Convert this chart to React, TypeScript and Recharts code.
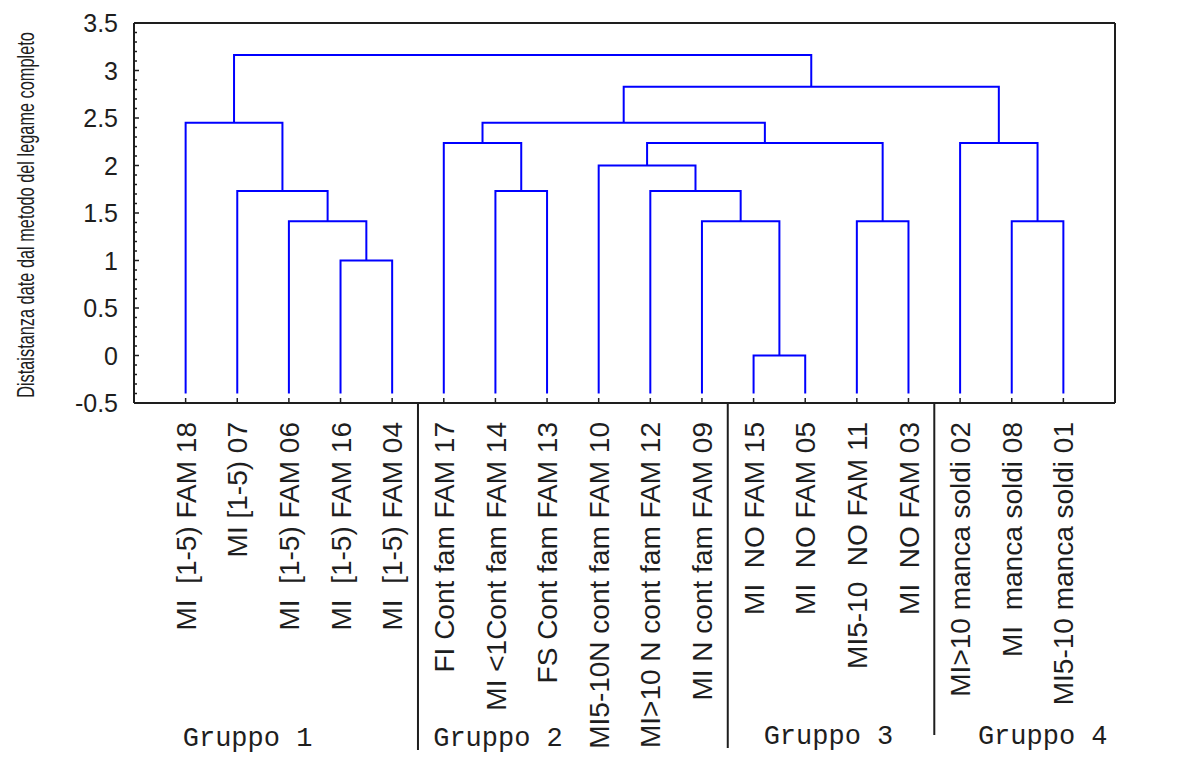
import React from 'react';
import { ComposedChart, Line, XAxis, YAxis, CartesianGrid, ReferenceDot } from 'recharts';

// leaves in dendrogram order
const leafLabels = [
  'MI  [1-5) FAM 18',
  'MI [1-5) 07',
  'MI  [1-5) FAM 06',
  'MI  [1-5) FAM 16',
  'MI  [1-5) FAM 04',
  'FI Cont fam FAM 17',
  'MI <1Cont fam FAM 14',
  'FS Cont fam FAM 13',
  'MI5-10N cont fam FAM 10',
  'MI>10 N cont fam FAM 12',
  'MI N cont fam FAM 09',
  'MI  NO FAM 15',
  'MI  NO FAM 05',
  'MI5-10  NO FAM 11',
  'MI  NO FAM 03',
  'MI>10 manca soldi 02',
  'MI  manca soldi 08',
  'MI5-10 manca soldi 01',
];

// merges: ids < 18 are leaves, 18+ are earlier merges
const mergeLeft = [11, 3, 2, 10, 13, 16, 1, 6, 9, 8, 5, 27, 15, 0, 28, 32, 31];
const mergeRight = [12, 4, 19, 18, 14, 17, 20, 7, 21, 26, 25, 22, 23, 24, 29, 30, 33];
const mergeHeight = [0, 1, 1.414, 1.414, 1.414, 1.414, 1.732, 1.732, 1.732, 2, 2.236, 2.236, 2.236, 2.449, 2.449, 2.828, 3.162];
const leafBase = -0.4;

const yTicks = [-0.5, 0, 0.5, 1, 1.5, 2, 2.5, 3, 3.5];
const yMinorTicks = Array.from({ length: 41 }, (_, i) => Math.round((-0.5 + i * 0.1) * 10) / 10);
const leafTicks = leafLabels.map((_, i) => i + 1);

const groupNames = ['Gruppo 1', 'Gruppo 2', 'Gruppo 3', 'Gruppo 4'];
const groupLabelX = [2.2, 7.05, 13.45, 17.6];
const groupBreaks = [5.5, 11.5, 15.5];

const groupLabelDrop = [343, 343, 341, 341];
const groupBreakLen = [347, 345, 332];

// build the U-shaped links from the merge table
const nodeX: number[] = leafLabels.map((_, i) => i + 1);
const nodeY: number[] = leafLabels.map(() => leafBase);
const links = mergeHeight.map((h, k) => {
  const a = mergeLeft[k];
  const b = mergeRight[k];
  const pts = [
    { x: nodeX[a], y: nodeY[a] },
    { x: nodeX[a], y: h },
    { x: nodeX[b], y: h },
    { x: nodeX[b], y: nodeY[b] },
  ];
  nodeX.push((nodeX[a] + nodeX[b]) / 2);
  nodeY.push(h);
  return pts;
});

const INK = '#1e1e1e';
const SANS = '"Liberation Sans", Arial, sans-serif';

const LeftTick = (p: any) => {
  const v = p.payload.value;
  const major = yTicks.includes(v);
  return (
    <g>
      <line x1={p.x} x2={p.x + (major ? 5 : 3)} y1={p.y} y2={p.y} stroke={INK} strokeWidth={1.5} />
      {major && (
        <text x={p.x - 16} y={p.y} dy="0.36em" textAnchor="end" fontFamily={SANS} fontSize={25} fill={INK}>
          {String(v)}
        </text>
      )}
    </g>
  );
};

const RightTick = (p: any) => (
  <g>
    <line x1={p.x} x2={p.x - 5} y1={p.y} y2={p.y} stroke={INK} strokeWidth={1.5} />
    <text x={p.x + 13} y={p.y} dy="0.36em" textAnchor="start" fontFamily={SANS} fontSize={25} fill={INK}>
      {String(p.payload.value)}
    </text>
  </g>
);

const LeafTick = (p: any) => (
  <g>
    <line x1={p.x} x2={p.x} y1={p.y} y2={p.y - 5} stroke={INK} strokeWidth={1.5} />
    <text
      transform={`translate(${p.x},${p.y + 19}) rotate(-90)`}
      textAnchor="end"
      dy="0.36em"
      fontFamily={SANS}
      fontSize={28}
      fill={INK}
      style={{ whiteSpace: 'pre' }}
    >
      {leafLabels[p.payload.value - 1]}
    </text>
  </g>
);

const TopTick = (p: any) => (
  <line x1={p.x} x2={p.x} y1={p.y} y2={p.y + 5} stroke={INK} strokeWidth={1.5} />
);

export default function App() {
  return (
    <div style={{ position: 'absolute', left: 0, top: 0, background: '#fff' }}>
      <ComposedChart width={1181} height={757} margin={{ top: 22, right: 0, bottom: 0, left: 0 }}>
        <CartesianGrid vertical={false} yAxisId="right" stroke="#b4b4b4" strokeDasharray="1 2" />
        <XAxis
          type="number"
          dataKey="x"
          domain={[0, 19]}
          ticks={leafTicks}
          interval={0}
          height={354}
          tickSize={0}
          tickMargin={0}
          tickLine={false}
          axisLine={{ stroke: INK, strokeWidth: 2 }}
          tick={LeafTick}
        />
        <XAxis
          xAxisId="top"
          orientation="top"
          type="number"
          dataKey="x"
          domain={[0, 19]}
          ticks={leafTicks}
          interval={0}
          height={1}
          tickSize={0}
          tickMargin={0}
          tickLine={false}
          axisLine={{ stroke: INK, strokeWidth: 2 }}
          tick={TopTick}
        />
        <YAxis
          type="number"
          domain={[-0.5, 3.5]}
          ticks={yMinorTicks}
          interval={0}
          width={134}
          tickSize={0}
          tickMargin={0}
          tickLine={false}
          axisLine={{ stroke: INK, strokeWidth: 2 }}
          tick={LeftTick}
          label={{
            position: 'center',
            content: (p: any) => {
              const vb = p.viewBox;
              const cx = vb.x + 34;
              const cy = vb.y + vb.height / 2 + 2;
              return (
                <text
                  x={0}
                  y={0}
                  transform={`translate(${cx},${cy}) rotate(-90) scale(0.71,1)`}
                  textAnchor="middle"
                  fontFamily={SANS}
                  fontSize={23}
                  fill={INK}
                >
                  Distaistanza date dal metodo del legame completo
                </text>
              );
            },
          }}
        />
        <YAxis
          yAxisId="right"
          orientation="right"
          type="number"
          domain={[-0.5, 3.5]}
          ticks={yTicks}
          interval={0}
          width={66}
          tickSize={0}
          tickMargin={0}
          tickLine={false}
          axisLine={{ stroke: INK, strokeWidth: 2 }}
          tick={RightTick}
        />
        {links.map((pts, i) => (
          <Line
            key={`link-${i}`}
            data={pts}
            dataKey="y"
            type="linear"
            stroke="#0000ff"
            strokeWidth={2}
            dot={false}
            activeDot={false}
            isAnimationActive={false}
          />
        ))}
        {groupBreaks.map((gx, i) => (
          <ReferenceDot
            key={`brk-${i}`}
            x={gx}
            y={-0.5}
            r={0}
            ifOverflow="visible"
            shape={(p: any) => (
              <line x1={p.cx} x2={p.cx} y1={p.cy} y2={p.cy + groupBreakLen[i]} stroke={INK} strokeWidth={2} />
            )}
          />
        ))}
        {groupNames.map((name, i) => (
          <ReferenceDot
            key={`grp-${i}`}
            x={groupLabelX[i]}
            y={-0.5}
            r={0}
            ifOverflow="visible"
            shape={(p: any) => (
              <text
                x={p.cx}
                y={p.cy + groupLabelDrop[i]}
                textAnchor="middle"
                fontFamily='"Liberation Mono", "Courier New", monospace'
                fontSize={27}
                fill={INK}
              >
                {name}
              </text>
            )}
          />
        ))}
      </ComposedChart>
    </div>
  );
}
